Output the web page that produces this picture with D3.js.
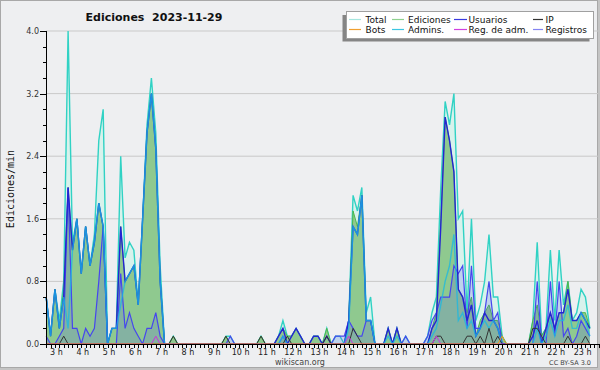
<!DOCTYPE html>
<html>
<head>
<meta charset="utf-8">
<script src="https://cdn.jsdelivr.net/npm/d3@7"></script>
<style>
  body{margin:0;background:#fff;}
  svg{display:block;font-family:"DejaVu Sans",sans-serif;}
</style>
</head>
<body>
<div id="chart"></div>
<script>
// 10 minute bins from 2:40 to 23:20, values in edits per minute
const startHour = 2 + 40/60
const binHours = 1/6

// one row per hour (first row 2:40-2:50, last row 23:00-23:20)
const total = [
  0.6,0.1,
  0.7,0.3,0.8,4.0,1.3,1.6,
  0.9,1.5,1.0,1.4,2.6,3.0,
  0,0.2,0.2,2.4,1.1,1.3,
  1.2,0.5,1.6,2.8,3.4,2.7,
  1.0,0,0,0.1,0,0,
  0,0,0,0,0,0,
  0,0,0,0.1,0.1,0,
  0,0,0,0,0,0.1,
  0,0,0,0.1,0.3,0.1,
  0.1,0.2,0.1,0,0,0.1,
  0.1,0,0.2,0,0.1,0.1,
  0,0.3,1.9,1.7,2.0,0.4,
  0.6,0,0,0,0.2,0,
  0.2,0,0.1,0,0,0,
  0,0.1,0.4,0.6,2.0,3.1,
  2.8,3.2,1.6,1.7,0.4,1.6,
  0.3,0.5,0.8,1.4,0.6,0.6,
  0.1,0,0,0,0,0,
  0,0.3,1.3,0.1,0.2,1.2,
  0.3,1.2,0.5,0.8,0.3,0.4,
  0.7,0.6,0.2]

const edits = [
  0.6,0.1,
  0.7,0.2,0.7,2.0,1.2,1.6,
  0.9,1.5,1.0,1.3,1.8,1.5,
  0,0.2,0.2,1.5,0.8,0.9,
  1.0,0.5,1.6,2.7,3.2,2.5,
  0.8,0,0,0.1,0,0,
  0,0,0,0,0,0,
  0,0,0,0.1,0,0,
  0,0,0,0,0,0.1,
  0,0,0,0.1,0.2,0.1,
  0.1,0.2,0.1,0,0,0.1,
  0.1,0,0.2,0,0,0,
  0,0.3,1.7,1.5,1.9,0.3,
  0.3,0,0,0,0.2,0,
  0.2,0,0,0,0,0,
  0,0,0.2,0.4,1.6,2.9,
  2.6,2.2,0.7,0.6,0.4,0.6,
  0.1,0.3,0.4,0.5,0.3,0.3,
  0.1,0,0,0,0,0,
  0,0.3,0.5,0.1,0.2,0.4,
  0.2,0.4,0.4,0.8,0.3,0.3,
  0.4,0.4,0.2]

const users = [
  0.6,0.1,
  0.7,0.2,0.6,2.0,1.2,1.6,
  0.9,1.5,1.0,1.3,1.8,1.5,
  0,0.2,0.2,1.5,0.8,0.9,
  1.0,0.5,1.6,2.7,3.2,2.5,
  0.8,0,0,0,0,0,
  0,0,0,0,0,0,
  0,0,0,0,0,0,
  0,0,0,0,0,0,
  0,0,0,0.1,0.2,0,
  0.1,0.2,0.1,0,0,0.1,
  0.1,0,0.1,0,0,0,
  0,0.3,1.5,1.4,1.9,0.3,
  0.3,0,0,0,0.2,0,
  0.2,0,0,0,0,0,
  0,0,0.2,0.3,1.5,2.9,
  2.6,2.2,0.7,0.6,0.3,0.5,
  0.1,0.2,0.4,0.3,0.3,0.2,
  0,0,0,0,0,0,
  0,0.1,0.3,0,0.2,0.4,
  0.2,0.4,0.4,0.7,0.3,0.3,
  0.4,0.3,0.2]

const admins = [
  0.6,0.1,
  0.7,0.2,0.6,0.2,1.2,1.6,
  0.9,1.5,1.0,1.3,1.8,1.5,
  0,0.2,0.2,0.5,0.8,0.9,
  1.0,0.5,1.6,2.7,3.2,2.5,
  0.8,0,0,0,0,0,
  0,0,0,0,0,0,
  0,0,0,0,0,0,
  0,0,0,0,0,0,
  0,0,0,0,0.1,0,
  0,0,0,0,0,0,
  0,0,0,0,0,0,
  0,0.2,1.5,1.4,1.9,0.3,
  0.3,0,0,0,0.1,0,
  0.1,0,0,0,0,0,
  0,0,0.1,0.2,0.5,0.8,
  1.0,1.4,0.3,0.4,0.2,0.3,
  0.1,0.2,0.3,0.2,0.3,0.2,
  0,0,0,0,0,0,
  0,0,0.2,0,0.1,0.3,
  0.1,0.3,0.3,0.5,0.2,0.2,
  0.4,0.3,0.1]

const ip = [
  0,0,
  0,0,0.1,0,0,0,
  0,0,0,0,0,0,
  0,0,0,0,0,0,
  0,0,0,0,0,0,
  0,0,0,0.1,0,0,
  0,0,0,0,0,0,
  0,0,0,0.1,0,0,
  0,0,0,0,0,0.1,
  0,0,0,0,0,0.1,
  0,0,0,0,0,0,
  0,0,0.1,0,0,0,
  0,0,0.2,0.1,0,0,
  0,0,0,0,0,0,
  0,0,0,0,0,0,
  0,0,0,0.1,0.1,0,
  0,0,0,0,0.1,0.1,
  0,0.1,0,0.2,0,0.1,
  0,0,0,0,0,0,
  0,0.2,0.2,0.1,0,0,
  0,0,0,0.1,0,0,
  0,0.1,0]

const bots = [
  0,0,
  0,0,0,0,0,0,
  0,0,0,0,0,0,
  0,0,0,0,0,0,
  0,0,0,0,0,0,
  0,0,0,0,0,0,
  0,0,0,0,0,0,
  0,0,0,0,0,0,
  0,0,0,0,0,0,
  0,0,0,0,0,0,
  0,0,0,0,0,0,
  0,0,0,0,0,0,
  0,0,0,0,0,0,
  0,0,0,0,0,0,
  0,0,0,0,0,0,
  0,0,0,0,0,0,
  0,0,0,0,0,0,
  0,0,0,0,0,0,
  0.1,0,0,0,0,0,
  0,0,0,0,0,0,
  0,0,0,0,0,0,
  0,0,0]

const regAdm = [
  0,0,
  0,0,0,0,0,0,
  0,0,0,0,0,0,
  0,0,0,0,0,0,
  0,0,0,0,0,0.1,
  0,0,0,0,0,0,
  0,0,0,0,0,0,
  0,0,0,0,0,0,
  0,0,0,0,0,0,
  0,0,0,0,0,0,
  0,0,0,0,0,0,
  0,0,0,0,0,0,
  0,0.1,0,0,0,0,
  0,0,0,0,0,0,
  0,0,0,0,0,0,
  0,0,0,0.1,0,0,
  0,0,0,0,0,0,
  0,0,0,0,0,0,
  0,0,0,0,0,0,
  0,0,0,0,0,0,
  0,0,0,0,0,0,
  0,0,0]

const logs = [
  0.1,0,
  0,0.1,0.2,2.0,0.2,0.2,
  0,0.2,0.1,0.2,0.8,1.5,
  0,0,0,0.9,0.2,0.4,
  0.2,0.1,0,0.2,0.2,0.4,
  0.1,0,0,0,0,0,
  0,0,0,0,0,0,
  0,0,0,0,0.1,0,
  0,0,0,0,0,0,
  0,0,0,0,0.1,0,
  0,0,0,0,0,0,
  0,0,0,0,0.1,0.1,
  0.1,0.3,0.2,0.1,0.1,0.3,
  0.3,0,0,0,0,0,
  0,0,0.1,0,0,0,
  0,0.1,0.3,0.4,0.6,0.6,
  0.6,1.0,0.9,1.0,0.2,1.0,
  0.2,0.2,0.4,0.8,0.3,0.4,
  0,0,0,0,0,0,
  0,0,0.8,0,0,0.8,
  0.1,0.8,0.1,0.2,0,0.1,
  0.3,0.2,0.1]

const yTicks = [0,0.8,1.6,2.4,3.2,4.0]
const hourLabels = d3.range(3,24)

const legendItems = [
  {name:"Total",color:"#a6e6df"},
  {name:"Ediciones",color:"#8fd18f"},
  {name:"Usuarios",color:"#3a3ae0"},
  {name:"IP",color:"#333333"},
  {name:"Bots",color:"#f0a030"},
  {name:"Admins.",color:"#3cc6e2"},
  {name:"Reg. de adm.",color:"#d040e0"},
  {name:"Registros",color:"#8484f2"}
]

const width=600, height=370
const svg=d3.select("#chart").append("svg").attr("width",width).attr("height",height)

svg.append("rect").attr("x",0).attr("y",0).attr("width",width).attr("height",height).attr("fill","#eeeff1")
svg.append("rect").attr("x",0.5).attr("y",0.5).attr("width",597).attr("height",367).attr("fill","none").attr("stroke","#a8a8a8")
svg.append("rect").attr("x",598).attr("y",0).attr("width",2).attr("height",height).attr("fill","#c4c4c4")
svg.append("rect").attr("x",0).attr("y",368).attr("width",width).attr("height",2).attr("fill","#c4c4c4")

let xScale=d3.scaleLinear().domain([2.66,23.72]).range([46,600])
let yScale=d3.scaleLinear().domain([0,4]).range([344,31])

const bins=total.map((d,i)=>startHour+i*binHours)
const xOf=i=>xScale(bins[i])

// grid
svg.append("g").selectAll("line").data(yTicks.filter(d=>d>0)).enter().append("line")
  .attr("x1",46).attr("x2",598).attr("y1",d=>yScale(d)).attr("y2",d=>yScale(d))
  .attr("stroke","#c9c9c9").attr("stroke-width",1)

const plot=svg.append("g")

function areaOf(values){
  return d3.area().x((d,i)=>xOf(i)).y0(yScale(0)).y1(d=>yScale(d))(values)
}
function lineOf(values){
  return d3.line().x((d,i)=>xOf(i)).y(d=>yScale(d))(values)
}

// total area
plot.append("path").attr("d",areaOf(total)).attr("fill","#d8f2ec")
plot.append("path").attr("d",lineOf(total)).attr("fill","none").attr("stroke","#30d2c4").attr("stroke-width",1.4)
// edits area
plot.append("path").attr("d",areaOf(edits)).attr("fill","#8fc98f")
plot.append("path").attr("d",lineOf(edits)).attr("fill","none").attr("stroke","#4bb84b").attr("stroke-width",1)
// logs area, see-through
plot.append("path").attr("d",areaOf(logs)).attr("fill","#5a5af0").attr("fill-opacity",0.2)
plot.append("path").attr("d",lineOf(logs)).attr("fill","none").attr("stroke","#4646ee").attr("stroke-width",1.2)
// other lines
plot.append("path").attr("d",lineOf(users)).attr("fill","none").attr("stroke","#2424d4").attr("stroke-width",1.4)
plot.append("path").attr("d",lineOf(admins)).attr("fill","none").attr("stroke","#18b8e4").attr("stroke-width",1.4).attr("stroke-opacity",0.75)
plot.append("path").attr("d",lineOf(ip)).attr("fill","none").attr("stroke","#333").attr("stroke-width",1)
plot.append("path").attr("d",lineOf(regAdm)).attr("fill","none").attr("stroke","#cc33dd").attr("stroke-width",1)
plot.append("path").attr("d",lineOf(bots)).attr("fill","none").attr("stroke","#ee9922").attr("stroke-width",1)

// y axis
let yAxis=svg.append("g")
yAxis.append("line").attr("x1",46.5).attr("x2",46.5).attr("y1",31).attr("y2",344).attr("stroke","#000")
yAxis.selectAll(".minor").data(d3.range(0,21)).enter().append("line")
  .attr("x1",d=>d%4==0?40:43).attr("x2",46).attr("y1",d=>Math.round(yScale(d*0.2))+0.5).attr("y2",d=>Math.round(yScale(d*0.2))+0.5)
  .attr("stroke","#000")
yAxis.selectAll("text").data(yTicks).enter().append("text")
  .attr("x",39).attr("y",d=>yScale(d)+3).attr("text-anchor","end")
  .attr("font-size",8).attr("fill","#333").text(d=>d.toFixed(1))

// x axis
let xAxis=svg.append("g")
xAxis.append("line").attr("x1",46).attr("x2",600).attr("y1",344.5).attr("y2",344.5).attr("stroke","#000")
xAxis.selectAll(".tick").data(d3.range(0,127)).enter().append("line")
  .attr("x1",d=>Math.round(xScale(startHour+d*binHours))+0.5).attr("x2",d=>Math.round(xScale(startHour+d*binHours))+0.5)
  .attr("y1",344).attr("y2",348).attr("stroke","#000")
xAxis.selectAll("text").data(hourLabels).enter().append("text")
  .attr("x",d=>xScale(d)+1.5).attr("y",355).attr("text-anchor","middle")
  .attr("font-size",8).attr("fill","#222").text(d=>d+" h")

// titles
svg.append("text").attr("x",154).attr("y",21).attr("text-anchor","middle").style("white-space","pre")
  .attr("font-size",11).attr("font-weight","bold").attr("fill","#111").text("Ediciones  2023-11-29")
svg.append("text").attr("transform","translate(13.5,189) rotate(-90)").attr("text-anchor","middle")
  .attr("font-family","DejaVu Sans Mono").attr("font-size",10).attr("fill","#111").text("Ediciones/min")
svg.append("text").attr("x",300).attr("y",365).attr("text-anchor","middle")
  .attr("font-size",8).attr("fill","#444").text("wikiscan.org")
svg.append("text").attr("x",591).attr("y",365).attr("text-anchor","end")
  .attr("font-size",6.5).attr("fill","#444").text("CC BY-SA 3.0")

// legend
let legend=svg.append("g")
legend.append("rect").attr("x",342.5).attr("y",15).attr("width",247).attr("height",26.5).attr("fill","#858585")
legend.append("rect").attr("x",346.5).attr("y",11.5).attr("width",247).attr("height",27).attr("fill","#fff").attr("stroke","#a0a0a0")
const colLine=[[349,361],[392,404],[454,467],[533,543]]
const colText=[365.5,408,468.5,545.5]
legendItems.forEach((item,i)=>{
  let c=i%4, r=Math.floor(i/4)
  let yc=19+r*10
  legend.append("line").attr("x1",colLine[c][0]).attr("x2",colLine[c][1]).attr("y1",yc+0.5).attr("y2",yc+0.5)
    .attr("stroke",item.color).attr("stroke-width",1.2)
  legend.append("text").attr("x",colText[c]).attr("y",yc+3.5).attr("font-size",9).attr("fill","#111").text(item.name)
})
</script>
</body>
</html>
